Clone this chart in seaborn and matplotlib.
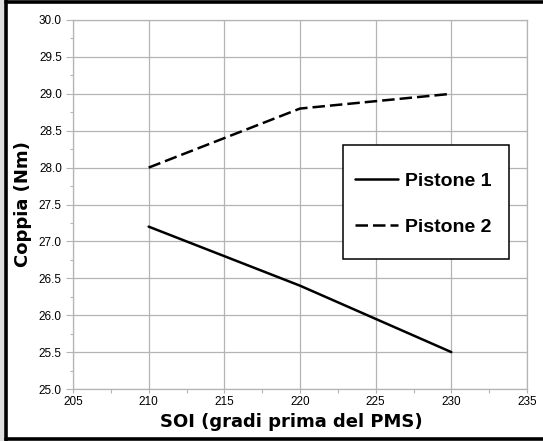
import matplotlib
matplotlib.use("Agg")
import matplotlib.pyplot as plt
from matplotlib.patches import Rectangle
from matplotlib.lines import Line2D
from matplotlib.ticker import MultipleLocator, FormatStrFormatter
import pandas as pd
import seaborn as sns

# Injection timing (degrees before TDC) and measured torque for each piston
soi = [210, 220, 230]
pistone_1 = [27.2, 26.4, 25.5]
pistone_2 = [28.0, 28.8, 29.0]
series_names = ["Pistone 1", "Pistone 2"]

df = pd.DataFrame({
    "SOI": soi * 2,
    "Coppia": pistone_1 + pistone_2,
    "Serie": [series_names[0]] * len(soi) + [series_names[1]] * len(soi),
})

sns.set_theme(style="white")
plt.rcParams["font.family"] = ["Liberation Sans", "DejaVu Sans"]

W, H = 543, 441
fig = plt.figure(figsize=(W / 100, H / 100), dpi=100)
fig.patch.set_facecolor("white")

# outer frame: grey strip on the left, thick black border
fig.patches.append(Rectangle((0, 0), 4 / W, 1, transform=fig.transFigure,
                             facecolor="#dedede", edgecolor="none", zorder=0))
for ln in [
    Line2D([5.5 / W, 5.5 / W], [0, 1]),
    Line2D([5.5 / W, 1], [1 - 1.5 / H, 1 - 1.5 / H]),
    Line2D([5.5 / W, 1], [1.8 / H, 1.8 / H]),
]:
    ln.set_transform(fig.transFigure)
    ln.set_color("black")
    ln.set_linewidth(2.6)
    fig.lines.append(ln)

ax = fig.add_axes([73 / W, 1 - 389 / H, (527 - 73) / W, (389 - 20) / H])

sns.lineplot(data=df, x="SOI", y="Coppia", hue="Serie", style="Serie",
             palette=["black", "black"],
             dashes={"Pistone 1": "", "Pistone 2": (5, 2)},
             linewidth=1.8, ax=ax, legend=False)

ax.set_xlim(205, 235)
ax.set_ylim(25.0, 30.0)
ax.xaxis.set_major_locator(MultipleLocator(5))
ax.xaxis.set_minor_locator(MultipleLocator(2.5))
ax.yaxis.set_major_locator(MultipleLocator(0.5))
ax.yaxis.set_minor_locator(MultipleLocator(0.25))
ax.yaxis.set_major_formatter(FormatStrFormatter("%.1f"))

grid_c = "#b4b4b4"
ax.grid(True, which="major", color=grid_c, linewidth=0.9)
for s in ax.spines.values():
    s.set_color(grid_c)
    s.set_linewidth(0.9)

ax.tick_params(axis="y", which="major", direction="out", length=5, width=0.8,
               color=grid_c, labelsize=8.5, pad=3, labelcolor="black", left=True)
ax.tick_params(axis="y", which="minor", direction="out", length=2, width=0.8,
               color=grid_c, left=True)
ax.tick_params(axis="x", which="major", direction="out", length=3, width=0.8,
               color=grid_c, labelsize=8.5, pad=2, labelcolor="black", bottom=True)
ax.tick_params(axis="x", which="minor", direction="out", length=3, width=0.8,
               color=grid_c, bottom=True)

ax.set_xlabel("SOI (gradi prima del PMS)", fontsize=13, fontweight="bold",
              family="DejaVu Sans", labelpad=2, color="black")
ax.xaxis.set_label_coords(0.48, -0.065)
ax.set_ylabel("Coppia (Nm)", fontsize=13, fontweight="bold",
              family="DejaVu Sans", labelpad=5, color="black")

# legend box
ax.add_patch(Rectangle((0.5947, 0.3523), 0.3657, 0.3089, transform=ax.transAxes,
                       facecolor="white", edgecolor="black", linewidth=1.1,
                       zorder=4))
handles = [
    Line2D([], [], color="black", linewidth=1.8),
    Line2D([], [], color="black", linewidth=1.8, dashes=(5, 2)),
]
leg = ax.legend(handles, series_names, loc="center left",
                bbox_to_anchor=(0.621, 0.501), frameon=False,
                prop={"family": "Liberation Sans", "weight": "bold", "size": 14},
                handlelength=2.2, handletextpad=0.4, labelspacing=1.45,
                borderpad=0, borderaxespad=0, labelcolor="black")
leg.set_zorder(5)

fig.savefig("out.png", dpi=100)
